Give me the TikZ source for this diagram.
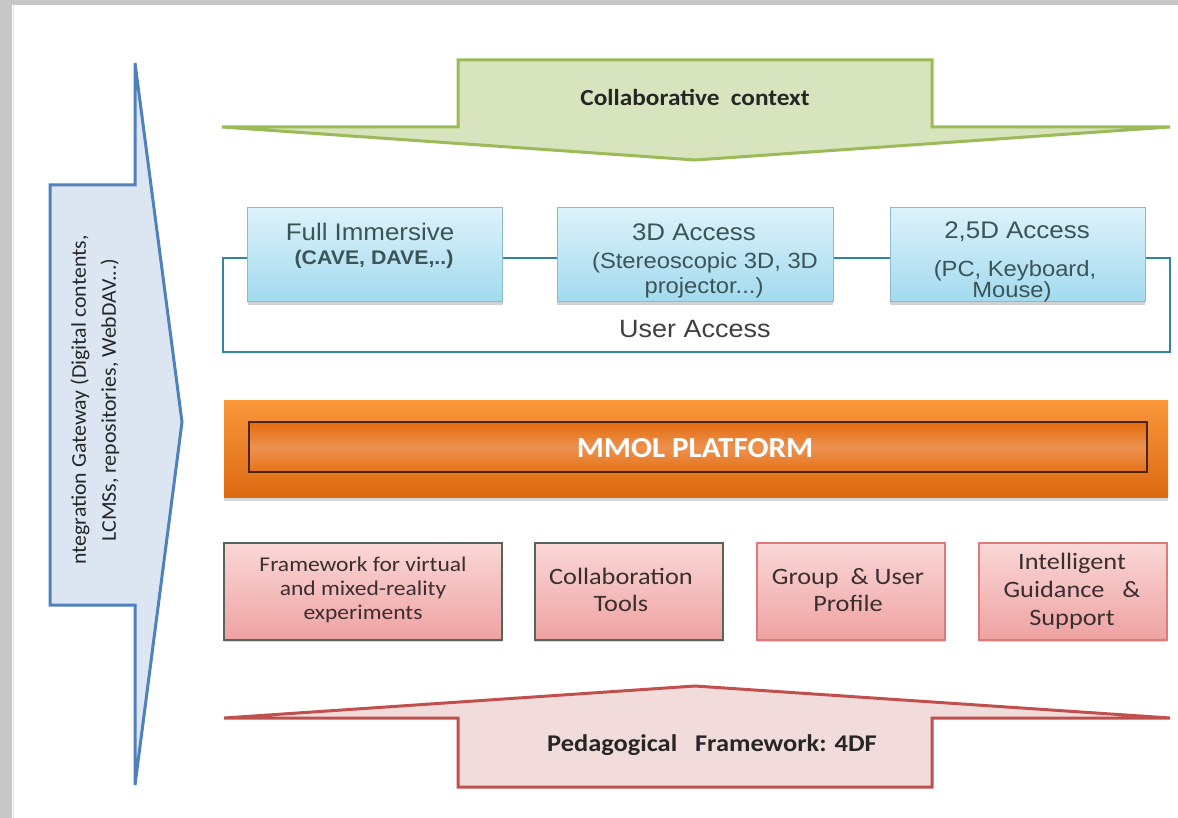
\documentclass[tikz,border=0pt]{standalone}
\usepackage{fontspec}
\setmainfont{Carlito}
\newfontfamily\arialf{Liberation Sans}
\usetikzlibrary{shadows}

\definecolor{grnfill}{HTML}{D7E4BD}
\definecolor{grnline}{HTML}{9BBB59}
\definecolor{bluefill}{HTML}{DCE6F2}
\definecolor{blueline}{HTML}{4F81BD}
\definecolor{redfill}{HTML}{F2DCDB}
\definecolor{redline}{HTML}{C0504D}
\definecolor{cyantop}{HTML}{DDF2FA}
\definecolor{cyanbot}{HTML}{A2DAEF}
\definecolor{cyanline}{HTML}{8DB9C9}
\definecolor{teal}{HTML}{31859C}
\definecolor{orgtop}{HTML}{F9973A}
\definecolor{orgbot}{HTML}{DD6A12}
\definecolor{orgmid}{HTML}{EC9150}
\definecolor{orgdark}{HTML}{E46C0A}
\definecolor{brown}{HTML}{4A2408}
\definecolor{pinktop}{HTML}{FAD7D7}
\definecolor{pinkbot}{HTML}{EFA2A2}
\definecolor{greyline}{HTML}{55655A}
\definecolor{pinkline}{HTML}{E07A7A}
\definecolor{txtgrey}{HTML}{404040}
\definecolor{slatetxt}{HTML}{3B5456}
\definecolor{modtxt}{HTML}{3A2E2E}

\begin{document}
\begin{tikzpicture}[x=1pt,y=-1pt,
  bigarrow/.style={line width=3pt, line join=miter},
  wide/.style={xscale=1.08},
  accessbox/.style={draw=cyanline, line width=1pt, top color=cyantop, bottom color=cyanbot,
    minimum width=#1, minimum height=94pt, inner sep=0pt,
    drop shadow={shadow xshift=0pt, shadow yshift=-3pt, opacity=0.35}},
  accesstext/.style={wide, font=\arialf\fontsize{24}{26}\selectfont, text=slatetxt, inner sep=0pt},
  subtext/.style={wide, font=\arialf\fontsize{22}{24}\selectfont, text=slatetxt, inner sep=0pt},
  modbox/.style={line width=1.5pt, top color=pinktop, bottom color=pinkbot,
    minimum width=#1, minimum height=97pt, inner sep=0pt,
    drop shadow={shadow xshift=0pt, shadow yshift=-2pt, opacity=0.3}},
  modtext/.style={xscale=1.12, text=modtxt, align=center, inner sep=0pt},
  arrowtext/.style={xscale=1.1, font=\bfseries\fontsize{23}{25}\selectfont, text=black!85, inner sep=0pt}
]
\useasboundingbox (0,0) rectangle (1178,818);

% page frame
\fill[white] (0,0) rectangle (1178,818);
\fill[black!22] (0,0) rectangle (12,818);
\fill[black!22] (0,0) rectangle (1178,5);
\draw[black!10, line width=1pt] (13,5) -- (13,818);

% integration gateway arrow (left, pointing right)
\draw[bigarrow, draw=blueline, fill=bluefill]
  (50,185) -- (135,185) -- (135,63) -- (182,422) -- (135,785) -- (135,605) -- (50,605) -- cycle;
\node[rotate=90, xscale=1.04, align=center, font=\fontsize{21}{30}\selectfont, text=black!85, inner sep=0pt] (gw) at (95,400)
  {ntegration Gateway (Digital contents,\\LCMSs, repositories, WebDAV...)};

% collaborative context arrow (top, pointing down)
\draw[bigarrow, draw=grnline, fill=grnfill]
  (458,60) -- (932,60) -- (932,127) -- (1170,127) -- (695,160) -- (222,127) -- (458,127) -- cycle;
\node[arrowtext] (cc) at (695,98) {Collaborative\ \ context};

% user access frame
\draw[teal, line width=2.5pt] (223,258) rectangle (1170,352);
\node[wide, font=\arialf\fontsize{25}{27}\selectfont, text=txtgrey, inner sep=0pt] (ua) at (695,329) {User Access};

% access boxes
\node[accessbox=255pt] (fi) at (375,255) {};
\node[accessbox=276pt] (td) at (695,255) {};
\node[accessbox=255pt] (tfd) at (1017.5,255) {};
\node[accesstext] (fiA) at (370,232) {Full Immersive};
\node[wide, font=\arialf\bfseries\fontsize{19.7}{21}\selectfont, text=slatetxt, inner sep=0pt] (fiB) at (374,259) {(CAVE, DAVE,..)};
\node[accesstext] (tdA) at (694,232) {3D Access};
\node[subtext] (tdB) at (705,263) {(Stereoscopic 3D, 3D};
\node[subtext] (tdC) at (704,288) {projector...)};
\node[accesstext] (tfdA) at (1017,232) {2,5D Access};
\node[subtext] (tfdB) at (1015,271) {(PC, Keyboard,};
\node[subtext] (tfdC) at (1012,292) {Mouse)};

% platform bar
\node[top color=orgtop, bottom color=orgbot, minimum width=944pt, minimum height=97pt, inner sep=0pt,
  drop shadow={shadow xshift=0pt, shadow yshift=-4pt, opacity=0.3}] (bar) at (696,448.5) {};
\node[draw=brown, line width=1.5pt, top color=orgdark, bottom color=orgdark!80!orgmid, middle color=orgmid,
  minimum width=898pt, minimum height=50pt, inner sep=0pt] (mmol) at (698,447) {};
\node[xscale=1.07, font=\bfseries\fontsize{29}{31}\selectfont, text=white, inner sep=0pt] (mmolT) at (695,448) {MMOL PLATFORM};

% platform modules
\node[modbox=278pt, draw=greyline] (m1) at (363,591.5) {};
\node[modbox=188pt, draw=greyline] (m2) at (629,591.5) {};
\node[modbox=188pt, draw=pinkline] (m3) at (851,591.5) {};
\node[modbox=188pt, draw=pinkline] (m4) at (1073,591.5) {};
\node[modtext, font=\fontsize{21}{24}\selectfont] (m1t) at (363,590) {Framework for virtual\\and mixed-reality\\experiments};
\node[modtext, font=\fontsize{23.5}{27}\selectfont] (m2t) at (621,590) {Collaboration\\Tools};
\node[modtext, font=\fontsize{23.5}{27}\selectfont] (m3t) at (848,590) {Group\ \ \& User\\Profile};
\node[modtext, font=\fontsize{23.5}{28}\selectfont] (m4t) at (1072,591) {Intelligent\\Guidance\ \ \ \&\\Support};

% pedagogical framework arrow (bottom, pointing up)
\draw[bigarrow, draw=redline, fill=redfill]
  (458,787) -- (932,787) -- (932,718) -- (1170,718) -- (695,686) -- (224,718) -- (458,718) -- cycle;
\node[arrowtext, font=\bfseries\fontsize{24}{26}\selectfont] (pf) at (712,745) {Pedagogical\ \ \ Framework: 4DF};
\end{tikzpicture}
\end{document}
